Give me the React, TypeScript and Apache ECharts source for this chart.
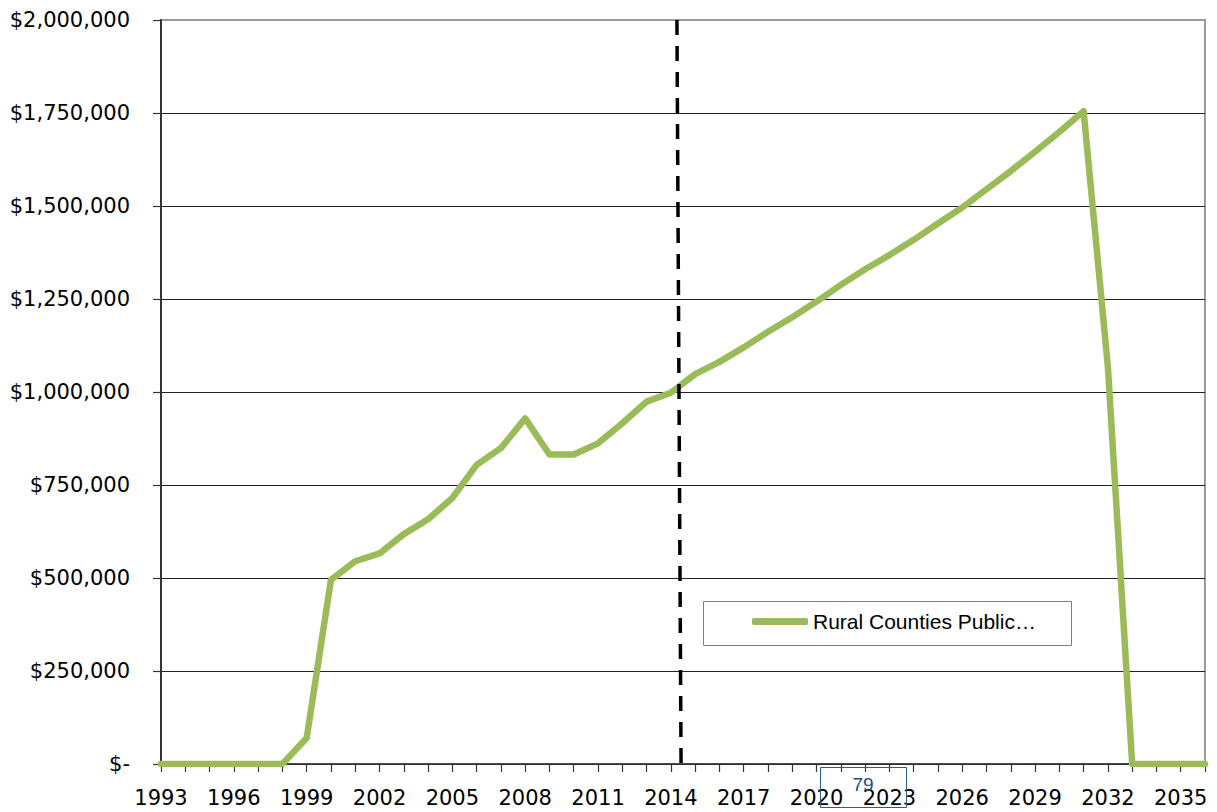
import React, { useEffect, useRef } from "react";
import * as echarts from "echarts";

const years: string[] = [];
for (let y = 1993; y <= 2036; y++) years.push(String(y));

const seriesName = "Rural Counties Public\u2026";
const values: number[] = [
  0, 0, 0, 0, 0, 0,
  70000, 495000, 545000, 566000, 618000, 658000, 715000, 804000, 849000, 929000,
  832000, 832000, 862000, 916000, 974000, 998000,
  1048000, 1081000, 1120000, 1162000, 1201000, 1243000, 1288000, 1330000, 1368000,
  1409000, 1453000, 1496000, 1545000, 1594000, 1646000, 1699000, 1755000,
  1068000, 0, 0, 0, 0,
];
// dashed divider position in category-index units (top, bottom)
const dividerLine: [number, number][] = [
  [21.25, 2000000],
  [21.42, 0],
];
const pageNumber = "79";

const fmt = (v: number) => (v === 0 ? "$-" : "$" + v.toLocaleString("en-US"));

export default function App() {
  const ref = useRef<HTMLDivElement>(null);
  useEffect(() => {
    if (!ref.current) return;
    const chart = echarts.init(ref.current, undefined, { renderer: "svg" });
    const green = "#9BBB59";
    chart.setOption({
      animation: false,
      backgroundColor: "#ffffff",
      grid: {
        left: 161,
        right: 12,
        top: 20,
        bottom: 48,
        show: true,
        borderColor: "#9a9a9a",
        borderWidth: 2,
        containLabel: false,
      },
      legend: {
        data: [seriesName],
        left: 752,
        top: 611,
        icon: "roundRect",
        itemWidth: 56,
        itemHeight: 7,
        itemGap: 5,
        padding: 0,
        textStyle: { fontFamily: "Liberation Sans", fontSize: 21, color: "#000" },
      },
      xAxis: [
        {
          type: "category",
          data: years,
          boundaryGap: false,
          axisLine: { lineStyle: { color: "#333", width: 1.5 } },
          axisTick: { show: true, interval: 0, length: 8, lineStyle: { color: "#333", width: 1.2 } },
          axisLabel: {
            interval: 2,
            margin: 23,
            color: "#000",
            fontFamily: "DejaVu Sans",
            fontSize: 21,
          },
          splitLine: { show: false },
        },
        {
          type: "value",
          min: 0,
          max: years.length - 1,
          show: false,
        },
      ],
      yAxis: {
        type: "value",
        min: 0,
        max: 2000000,
        interval: 250000,
        axisLine: { show: true, lineStyle: { color: "#333", width: 2 } },
        axisTick: { show: true, length: 8, lineStyle: { color: "#333", width: 1.2 } },
        axisLabel: {
          margin: 31,
          color: "#000",
          fontFamily: "DejaVu Sans",
          fontSize: 21,
          formatter: fmt,
        },
        splitLine: {
          show: true,
          lineStyle: {
            color: ["#222", "#222", "#222", "#222", "#222", "#222", "#222", "#222", "#9a9a9a"],
            width: 1,
          },
        },
      },
      series: [
        {
          name: seriesName,
          type: "line",
          data: values,
          symbol: "none",
          color: green,
          lineStyle: { color: green, width: 6.5, cap: "round", join: "round" },
          z: 3,
        },
        {
          name: "divider",
          type: "line",
          xAxisIndex: 1,
          data: dividerLine,
          symbol: "none",
          silent: true,
          lineStyle: { color: "#000", width: 3.5, type: [15, 11] },
          z: 4,
        },
      ],
      graphic: [
        {
          type: "rect",
          shape: { x: 703.5, y: 601.5, width: 368, height: 44 },
          style: { fill: "none", stroke: "#7f7f7f", lineWidth: 1 },
          z: 1,
        },
        {
          type: "rect",
          shape: { x: 820.5, y: 767.5, width: 86, height: 40 },
          style: { fill: "none", stroke: "#2E5C8A", lineWidth: 1 },
          z: 10,
        },
        {
          type: "text",
          x: 863,
          y: 784,
          style: {
            text: pageNumber,
            fill: "#1F4E79",
            fontFamily: "Liberation Sans Narrow, Liberation Sans",
            fontSize: 19,
            align: "center",
            verticalAlign: "middle",
          },
          z: 11,
        },
      ],
    });
    return () => chart.dispose();
  }, []);
  return (
    <div
      ref={ref}
      style={{ position: "fixed", left: 0, top: 0, width: 1217, height: 812 }}
    />
  );
}
